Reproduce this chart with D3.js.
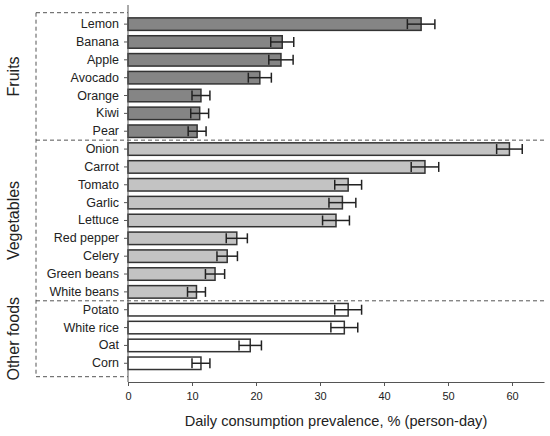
<!DOCTYPE html>
<html><head><meta charset="utf-8">
<script src="https://cdn.jsdelivr.net/npm/d3@7"></script>
<style>body{margin:0;background:#fff;} svg{display:block;font-family:"Liberation Sans",Arial,sans-serif;}</style>
</head><body>
<svg id="c" width="550" height="436"></svg>
<script>
const categories = ["Lemon","Banana","Apple","Avocado","Orange","Kiwi","Pear",
  "Onion","Carrot","Tomato","Garlic","Lettuce","Red pepper","Celery","Green beans","White beans",
  "Potato","White rice","Oat","Corn"];
const groups = ["Fruits","Fruits","Fruits","Fruits","Fruits","Fruits","Fruits",
  "Vegetables","Vegetables","Vegetables","Vegetables","Vegetables","Vegetables","Vegetables","Vegetables","Vegetables",
  "Other foods","Other foods","Other foods","Other foods"];
const values = [45.8,24.1,23.9,20.6,11.4,11.2,10.8,
  59.6,46.4,34.4,33.5,32.5,17.0,15.5,13.6,10.7,
  34.4,33.8,19.1,11.4];
const errors = [2.15,1.8,1.9,1.8,1.4,1.4,1.4,
  2.0,2.15,2.1,2.1,2.1,1.65,1.6,1.5,1.4,
  2.1,2.1,1.75,1.4];
const groupNames = ["Fruits","Vegetables","Other foods"];
const groupColors = ["#858585","#c3c3c3","#ffffff"];
const xTicks = [0,10,20,30,40,50,60];

const data = categories.map((c,i)=>({c, g:groups[i], v:values[i], e:errors[i]}));
const svg = d3.select("#c");
const x = d3.scaleLinear().domain([0,65]).range([128,544]);
const y = d3.scaleBand().domain(categories).range([15.2,372.2]).paddingInner(0.3).paddingOuter(0.15);
const color = d3.scaleOrdinal().domain(groupNames).range(groupColors);

// dashed group boxes
const step = y.step();
const bounds = groupNames.map(g=>{
  const cs = data.filter(d=>d.g===g).map(d=>d.c);
  return {g, y0: y(cs[0]) - y.paddingInner()*step/2, y1: y(cs[cs.length-1]) + y.bandwidth() + y.paddingInner()*step/2};
});
const dash = "4,3";
const boxTop = 12.7, boxBot = 376.7, boxLeft = 36;
const dl = svg.append("g").attr("stroke","#555").attr("stroke-width",1).attr("stroke-dasharray",dash).attr("fill","none");
dl.append("line").attr("x1",boxLeft).attr("x2",x(0)).attr("y1",boxTop).attr("y2",boxTop);
dl.append("line").attr("x1",boxLeft).attr("x2",x(0)).attr("y1",boxBot).attr("y2",boxBot);
dl.append("line").attr("x1",boxLeft).attr("x2",boxLeft).attr("y1",boxTop).attr("y2",boxBot);
bounds.slice(1).forEach(b=>{
  dl.append("line").attr("x1",boxLeft).attr("x2",x(65)).attr("y1",b.y0).attr("y2",b.y0);
});

// group labels
const gy = [ (boxTop+bounds[0].y1)/2, (bounds[1].y0+bounds[1].y1)/2, (bounds[2].y0+boxBot)/2 ];
groupNames.forEach((g,i)=>{
  svg.append("text").attr("transform",`translate(19,${gy[i]}) rotate(-90)`)
    .attr("text-anchor","middle").attr("font-size",16).attr("fill","#222").text(g);
});

// bars
svg.append("g").selectAll("rect").data(data).join("rect")
  .attr("x",x(0)).attr("y",d=>y(d.c)).attr("width",d=>x(d.v)-x(0)).attr("height",y.bandwidth())
  .attr("fill",d=>color(d.g)).attr("stroke","#333").attr("stroke-width",1.5);

// error bars
const eb = svg.append("g").attr("stroke","#222").attr("stroke-width",1.5);
data.forEach(d=>{
  const cy = y(d.c)+y.bandwidth()/2;
  const h = 5;
  eb.append("line").attr("x1",x(d.v-d.e)).attr("x2",x(d.v+d.e)).attr("y1",cy).attr("y2",cy);
  eb.append("line").attr("x1",x(d.v-d.e)).attr("x2",x(d.v-d.e)).attr("y1",cy-h).attr("y2",cy+h);
  eb.append("line").attr("x1",x(d.v+d.e)).attr("x2",x(d.v+d.e)).attr("y1",cy-h).attr("y2",cy+h);
});

// y axis
const ya = svg.append("g").attr("transform",`translate(${x(0)},0)`)
  .call(d3.axisLeft(y).tickSize(4).tickPadding(5).tickSizeOuter(0));
ya.select(".domain").remove();
ya.selectAll(".tick line").attr("stroke","#555");
ya.selectAll(".tick text").attr("font-size",12.5).attr("fill","#222").attr("font-family","Liberation Sans, Arial, sans-serif");
svg.append("line").attr("x1",x(0)).attr("x2",x(0)).attr("y1",5).attr("y2",382).attr("stroke","#555").attr("stroke-width",1);

// x axis
const xa = svg.append("g").attr("transform","translate(0,382)")
  .call(d3.axisBottom(x).tickValues(xTicks).tickSize(4).tickPadding(6).tickSizeOuter(0));
xa.select(".domain").attr("stroke","#555");
xa.selectAll(".tick line").attr("stroke","#555");
xa.selectAll(".tick text").attr("font-size",11).attr("fill","#222").attr("font-family","Liberation Sans, Arial, sans-serif");

svg.append("text").attr("x",(x(0)+x(65))/2 - 0).attr("y",426).attr("text-anchor","middle")
  .attr("font-size",14.6).attr("fill","#222").text("Daily consumption prevalence, % (person-day)");
</script>
</body></html>
